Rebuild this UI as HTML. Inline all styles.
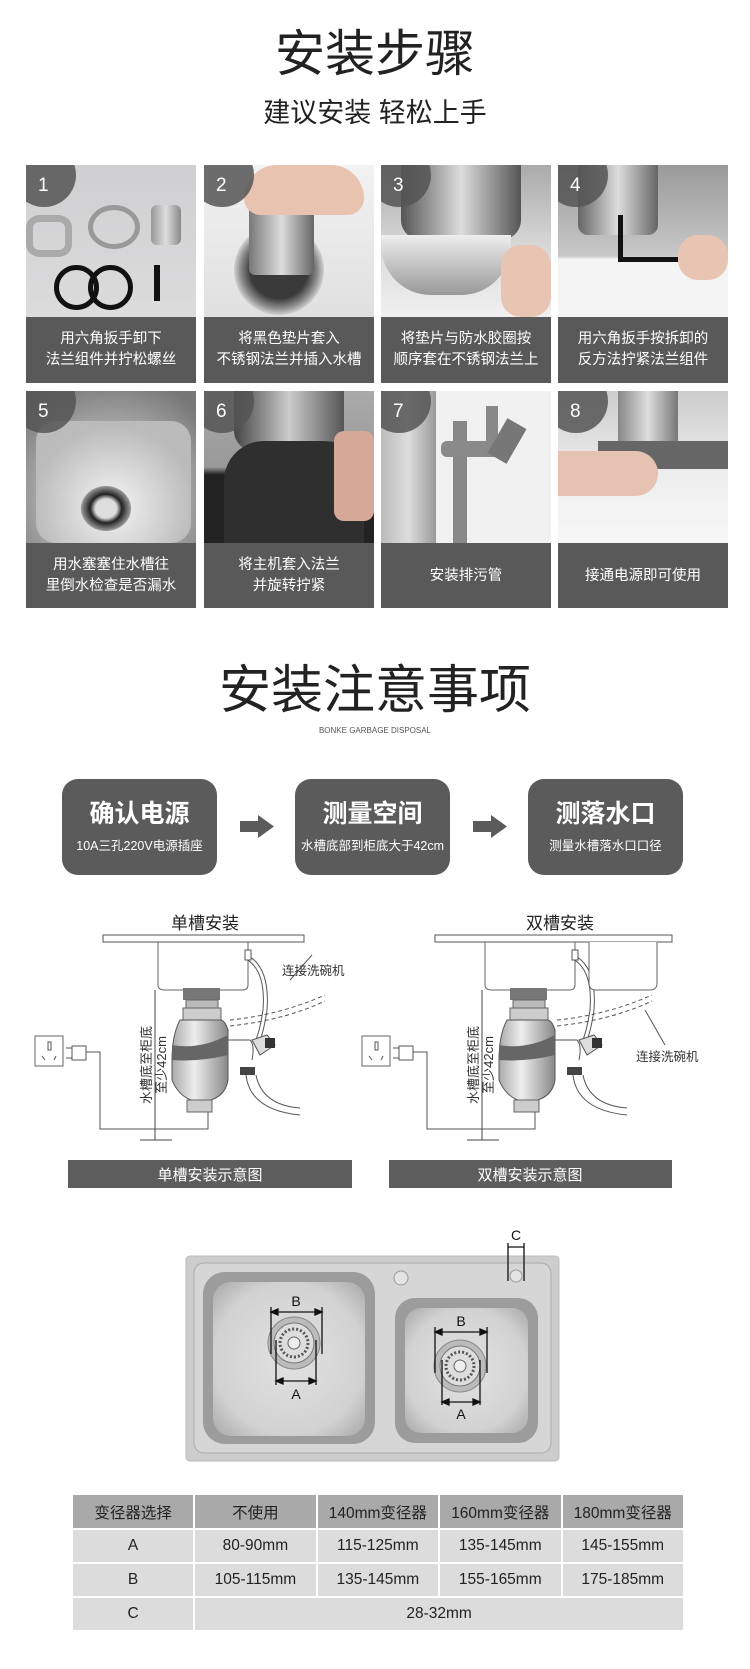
<!DOCTYPE html>
<html><head><meta charset="utf-8">
<style>
*{margin:0;padding:0;box-sizing:border-box}
body{width:750px;height:1669px;background:#fff;position:relative;overflow:hidden;font-family:"Liberation Sans","Noto Sans CJK SC",sans-serif;color:#222}
.a{position:absolute}
.c{text-align:center;white-space:nowrap}
.tile{position:absolute;width:170px;overflow:hidden}
.ph{position:absolute;left:0;top:0;width:170px;height:152px;overflow:hidden}
.cap{position:absolute;left:0;top:152px;width:170px;height:66px;background:#595959;color:#fff;font-size:14.5px;line-height:21px;display:flex;align-items:center;justify-content:center;text-align:center}
.num{position:absolute;left:-14px;top:-22px;width:64px;height:64px;border-radius:50%;background:rgba(85,85,85,.85);color:#fff;font-size:19px}
.num span{position:absolute;left:26px;top:32px}
.box{position:absolute;top:779px;width:155px;height:96px;background:#5b5b5b;border-radius:16px;color:#fff;text-align:center}
.box b{display:block;font-size:25px;font-weight:bold;margin-top:20px;line-height:30px}
.box i{display:block;font-style:normal;font-size:12.5px;margin-top:6px}
.arr{position:absolute;top:815px;width:34px;height:23px}
table{position:absolute;left:71px;top:1493px;width:614px;border-collapse:collapse;font-size:15.5px;color:#222}
td{border:2px solid #fff;text-align:center;height:34px;background:#dcdcdc;width:123px}
tr.h td{background:#a9a9a9;height:35px}
</style></head><body>

<div class="a c" style="left:0;width:750px;top:24px;font-size:50px;line-height:60px;color:#222">安装步骤</div>
<div class="a c" style="left:0;width:750px;top:97px;font-size:27px;line-height:32px;color:#222">建议安装&nbsp;轻松上手</div>

<div class="tile" style="left:26px;top:165px;height:218px">
 <div class="ph" style="background:linear-gradient(#cfcfd1,#dcdcdd)">
  <div class="a" style="left:0;top:50px;width:46px;height:42px;border:7px solid #aaa;border-radius:30%"></div>
  <div class="a" style="left:62px;top:40px;width:52px;height:44px;border:5px solid #999;border-radius:50%"></div>
  <div class="a" style="left:125px;top:40px;width:30px;height:40px;background:linear-gradient(90deg,#999,#ddd,#888);border-radius:6px"></div>
  <div class="a" style="left:28px;top:100px;width:45px;height:45px;border:5px solid #111;border-radius:50%"></div>
  <div class="a" style="left:62px;top:100px;width:45px;height:45px;border:5px solid #111;border-radius:50%"></div>
  <div class="a" style="left:128px;top:100px;width:6px;height:36px;background:#111"></div>
 </div>
 <div class="num"><span>1</span></div>
 <div class="cap">用六角扳手卸下<br>法兰组件并拧松螺丝</div>
</div>
<div class="tile" style="left:204px;top:165px;height:218px">
 <div class="ph" style="background:linear-gradient(#f2f2f2,#e0e0e0)">
  <div class="a" style="left:30px;top:60px;width:90px;height:90px;border-radius:50%;background:radial-gradient(#3a3a3a 45%,#8a8a8a 60%,#ccc 70%)"></div>
  <div class="a" style="left:45px;top:40px;width:65px;height:70px;background:linear-gradient(90deg,#777,#ddd,#666);border-radius:6px"></div>
  <div class="a" style="left:40px;top:0;width:120px;height:50px;background:#e7c3b0;border-radius:40px 40px 20px 20px"></div>
 </div>
 <div class="num"><span>2</span></div>
 <div class="cap">将黑色垫片套入<br>不锈钢法兰并插入水槽</div>
</div>
<div class="tile" style="left:381px;top:165px;height:218px">
 <div class="ph" style="background:linear-gradient(#aaa,#ddd 60%,#f0f0f0)">
  <div class="a" style="left:20px;top:0;width:120px;height:75px;background:linear-gradient(90deg,#555,#ddd,#555);border-radius:0 0 20px 20px"></div>
  <div class="a" style="left:0;top:70px;width:130px;height:60px;background:linear-gradient(#eee,#999);border-radius:0 0 50px 50px"></div>
  <div class="a" style="left:120px;top:80px;width:50px;height:72px;background:#e8c4b2;border-radius:20px"></div>
 </div>
 <div class="num"><span>3</span></div>
 <div class="cap">将垫片与防水胶圈按<br>顺序套在不锈钢法兰上</div>
</div>
<div class="tile" style="left:558px;top:165px;height:218px">
 <div class="ph" style="background:linear-gradient(#9a9a9a,#c8c8c8 60%,#f4f4f4 62%)">
  <div class="a" style="left:20px;top:0;width:80px;height:70px;background:linear-gradient(90deg,#666,#ddd,#666);border-radius:0 0 10px 10px"></div>
  <div class="a" style="left:60px;top:50px;width:5px;height:45px;background:#111"></div>
  <div class="a" style="left:60px;top:92px;width:60px;height:5px;background:#111"></div>
  <div class="a" style="left:120px;top:70px;width:50px;height:45px;background:#e8c4b2;border-radius:20px"></div>
 </div>
 <div class="num"><span>4</span></div>
 <div class="cap">用六角扳手按拆卸的<br>反方法拧紧法兰组件</div>
</div>

<div class="tile" style="left:26px;top:391px;height:217px">
 <div class="ph" style="background:radial-gradient(circle at 50% 70%,#eee,#aaa 50%,#777 90%)">
  <div class="a" style="left:10px;top:30px;width:155px;height:122px;border-radius:20px;background:radial-gradient(circle at 50% 70%,#f4f4f4,#bbb 70%)"></div>
  <div class="a" style="left:55px;top:95px;width:50px;height:45px;border-radius:50%;background:radial-gradient(#ddd 30%,#222 45%,#999 70%)"></div>
 </div>
 <div class="num"><span>5</span></div>
 <div class="cap">用水塞塞住水槽往<br>里倒水检查是否漏水</div>
</div>
<div class="tile" style="left:204px;top:391px;height:217px">
 <div class="ph" style="background:linear-gradient(#aaa,#999 50%,#222 55%)">
  <div class="a" style="left:30px;top:0;width:110px;height:60px;background:linear-gradient(90deg,#444,#ccc,#555);border-radius:0 0 20px 20px"></div>
  <div class="a" style="left:20px;top:50px;width:140px;height:102px;background:#2f2f2f;border-radius:40px 40px 0 0"></div>
  <div class="a" style="left:130px;top:40px;width:40px;height:90px;background:#d6a898;border-radius:10px"></div>
 </div>
 <div class="num"><span>6</span></div>
 <div class="cap">将主机套入法兰<br>并旋转拧紧</div>
</div>
<div class="tile" style="left:381px;top:391px;height:217px">
 <div class="ph" style="background:#f1f1f1">
  <div class="a" style="left:0;top:0;width:55px;height:152px;background:linear-gradient(90deg,#bbb,#ddd,#999)"></div>
  <div class="a" style="left:72px;top:30px;width:14px;height:122px;background:#888"></div>
  <div class="a" style="left:60px;top:50px;width:70px;height:16px;background:#8a8a8a;border-radius:6px"></div>
  <div class="a" style="left:105px;top:15px;width:12px;height:45px;background:#888"></div>
  <div class="a" style="left:115px;top:30px;width:22px;height:40px;background:#777;transform:rotate(30deg)"></div>
 </div>
 <div class="num"><span>7</span></div>
 <div class="cap">安装排污管</div>
</div>
<div class="tile" style="left:558px;top:391px;height:217px">
 <div class="ph" style="background:linear-gradient(#ccc,#eee 55%,#f7f7f7)">
  <div class="a" style="left:60px;top:0;width:60px;height:55px;background:linear-gradient(90deg,#888,#ddd,#777)"></div>
  <div class="a" style="left:40px;top:50px;width:130px;height:28px;background:#666"></div>
  <div class="a" style="left:0;top:60px;width:100px;height:45px;background:#e6c2b2;border-radius:0 25px 25px 0"></div>
 </div>
 <div class="num"><span>8</span></div>
 <div class="cap">接通电源即可使用</div>
</div>

<div class="a c" style="left:0;width:750px;top:660px;font-size:52px;line-height:62px">安装注意事项</div>
<div class="a c" style="left:0;width:750px;top:725px;font-size:8px;line-height:12px;color:#555">BONKE GARBAGE DISPOSAL</div>

<div class="box" style="left:62px"><b>确认电源</b><i>10A三孔220V电源插座</i></div>
<div class="box" style="left:295px"><b>测量空间</b><i>水槽底部到柜底大于42cm</i></div>
<div class="box" style="left:528px"><b>测落水口</b><i>测量水槽落水口口径</i></div>
<svg class="arr" style="left:240px" viewBox="0 0 34 23"><polygon points="0,6 18,6 18,0 34,11.5 18,23 18,17 0,17" fill="#5b5b5b"/></svg>
<svg class="arr" style="left:473px" viewBox="0 0 34 23"><polygon points="0,6 18,6 18,0 34,11.5 18,23 18,17 0,17" fill="#5b5b5b"/></svg>

<svg class="a" style="left:0;top:890px" width="750" height="310" viewBox="0 890 750 310">
 <defs>
  <linearGradient id="g" x1="0" x2="1"><stop offset="0" stop-color="#aaa"/><stop offset=".4" stop-color="#eee"/><stop offset="1" stop-color="#888"/></linearGradient>
  <g id="d">
   <path d="M158 942 V985 Q158 990 165 990 H242 Q248 990 248 985 V942" fill="none" stroke="#666"/>
   <rect x="183" y="988" width="37" height="12" fill="#777"/>
   <rect x="186" y="1000" width="32" height="10" fill="#bbb" stroke="#666"/>
   <rect x="183" y="1008" width="38" height="12" fill="#ccc" stroke="#666"/>
   <path d="M180 1020 Q172 1035 172 1060 V1080 Q180 1100 200 1102 Q225 1100 228 1080 V1030 Q225 1020 220 1020Z" fill="url(#g)" stroke="#555"/>
   <path d="M172 1045 Q200 1050 228 1035 V1055 Q200 1062 172 1060Z" fill="#666"/>
   <rect x="187" y="1100" width="25" height="12" fill="#ccc" stroke="#666"/>
   <line x1="155" y1="990" x2="155" y2="1140" stroke="#444"/>
   <line x1="140" y1="1140" x2="172" y2="1140" stroke="#444"/>
   <text transform="translate(151 1065) rotate(-90)" text-anchor="middle" font-size="13" fill="#333">水槽底至柜底</text>
   <text transform="translate(166 1065) rotate(-90)" text-anchor="middle" font-size="13" fill="#333">至少42cm</text>
   <rect x="35" y="1036" width="28" height="30" fill="#fff" stroke="#666"/>
   <rect x="48" y="1042" width="3" height="8" fill="none" stroke="#555"/>
   <path d="M42 1056 l3 4 M56 1056 l-2 4" stroke="#555"/>
   <path d="M66 1048 h6 v10 h-6 M72 1046 h14 v14 h-14z M86 1052 h6" fill="none" stroke="#555"/>
   <path d="M92 1052 H100 V1129 H208 V1112" fill="none" stroke="#555"/>
   <path d="M248 958 Q268 970 265 1010 Q262 1030 258 1040" fill="none" stroke="#555" stroke-width="5"/>
   <path d="M248 958 Q268 970 265 1010 Q262 1030 258 1040" fill="none" stroke="#fff" stroke-width="3"/>
   <rect x="245" y="950" width="6" height="10" fill="#fff" stroke="#555"/>
   <path d="M228 1040 H250 Q255 1045 252 1060" fill="none" stroke="#555"/>
   <path d="M252 1040 l15 -5 l8 10 l-15 10z" fill="#ddd" stroke="#555"/>
   <rect x="265" y="1038" width="10" height="10" fill="#333"/>
   <rect x="240" y="1067" width="15" height="8" fill="#444"/>
   <path d="M246 1075 Q250 1110 300 1115" fill="none" stroke="#555"/>
   <path d="M256 1075 Q262 1105 300 1108" fill="none" stroke="#555"/>
   <path d="M230 1020 Q280 1015 325 995 M230 1026 Q285 1020 325 1001" fill="none" stroke="#555" stroke-dasharray="4 3"/>
  </g>
 </defs>
 <text x="205" y="929" text-anchor="middle" font-size="17" fill="#222">单槽安装</text>
 <rect x="103" y="935" width="201" height="7" fill="#fff" stroke="#555"/>
 <use href="#d"/>
 <line x1="290" y1="980" x2="312" y2="955" stroke="#555"/>
 <text x="282" y="975" font-size="12.5" fill="#333">连接洗碗机</text>
 <rect x="68" y="1160" width="284" height="28" fill="#5d5d5d"/>
 <text x="210" y="1180" text-anchor="middle" font-size="15" fill="#fff">单槽安装示意图</text>

 <text x="560" y="929" text-anchor="middle" font-size="17" fill="#222">双槽安装</text>
 <rect x="435" y="935" width="237" height="7" fill="#fff" stroke="#555"/>
 <g transform="translate(327 0)"><use href="#d"/></g>
 <path d="M589 942 V983 Q589 990 596 990 H650 Q657 990 657 983 V942" fill="#fff" stroke="#666"/>
 <line x1="645" y1="1010" x2="665" y2="1045" stroke="#555"/>
 <text x="636" y="1061" font-size="12.5" fill="#333">连接洗碗机</text>
 <rect x="389" y="1160" width="283" height="28" fill="#5d5d5d"/>
 <text x="530" y="1180" text-anchor="middle" font-size="15" fill="#fff">双槽安装示意图</text>
</svg>

<svg class="a" style="left:180px;top:1200px" width="390" height="265" viewBox="180 1200 390 265">
 <defs>
  <radialGradient id="bs" cx=".5" cy=".5" r=".7"><stop offset="0" stop-color="#e2e2e2"/><stop offset=".7" stop-color="#d2d2d2"/><stop offset="1" stop-color="#a8a8a8"/></radialGradient>
  <g id="drain"><circle r="26" fill="#bbb" stroke="#888"/><circle r="20" fill="#ddd" stroke="#777"/><circle r="14" fill="none" stroke="#555" stroke-width="3" stroke-dasharray="2 2"/><circle r="6" fill="#eee" stroke="#666"/></g>
 </defs>
 <rect x="186" y="1256" width="373" height="205" rx="4" fill="#cdcdcd" stroke="#bbb"/>
 <rect x="194" y="1263" width="357" height="190" rx="10" fill="#d6d6d6" stroke="#aaa"/>
 <rect x="203" y="1272" width="172" height="172" rx="22" fill="#9c9c9c"/>
 <rect x="213" y="1282" width="152" height="154" rx="18" fill="url(#bs)"/>
 <rect x="395" y="1298" width="143" height="145" rx="20" fill="#9c9c9c"/>
 <rect x="405" y="1308" width="123" height="125" rx="16" fill="url(#bs)"/>
 <circle cx="401" cy="1278" r="7" fill="#e4e4e4" stroke="#999"/>
 <circle cx="516" cy="1276" r="6" fill="#e4e4e4" stroke="#999"/>
 <use href="#drain" x="294" y="1343"/>
 <use href="#drain" x="460" y="1366"/>
 <g stroke="#111" stroke-width="1.3" fill="#111">
  <path d="M271 1307 V1354 M322 1307 V1354 M271 1312 H322"/><path d="M271 1312 l7 -3 v6z M322 1312 l-7 -3 v6z"/>
  <path d="M276 1340 V1385 M316 1340 V1385 M276 1381 H316"/><path d="M276 1381 l7 -3 v6z M316 1381 l-7 -3 v6z"/>
  <path d="M435 1327 V1373 M487 1327 V1373 M435 1332 H487"/><path d="M435 1332 l7 -3 v6z M487 1332 l-7 -3 v6z"/>
  <path d="M442 1360 V1405 M480 1360 V1405 M442 1402 H480"/><path d="M442 1402 l7 -3 v6z M480 1402 l-7 -3 v6z"/>
  <path d="M508 1243 V1281 M524 1243 V1281 M508 1247 H524"/>
 </g>
 <g font-size="14" fill="#111" text-anchor="middle">
  <text x="296" y="1306">B</text><text x="296" y="1399">A</text>
  <text x="461" y="1326">B</text><text x="461" y="1419">A</text>
  <text x="516" y="1240">C</text>
 </g>
</svg>

<table>
<tr class="h"><td>变径器选择</td><td>不使用</td><td>140mm变径器</td><td>160mm变径器</td><td>180mm变径器</td></tr>
<tr><td>A</td><td>80-90mm</td><td>115-125mm</td><td>135-145mm</td><td>145-155mm</td></tr>
<tr><td>B</td><td>105-115mm</td><td>135-145mm</td><td>155-165mm</td><td>175-185mm</td></tr>
<tr><td>C</td><td colspan="4">28-32mm</td></tr>
</table>
</body></html>
